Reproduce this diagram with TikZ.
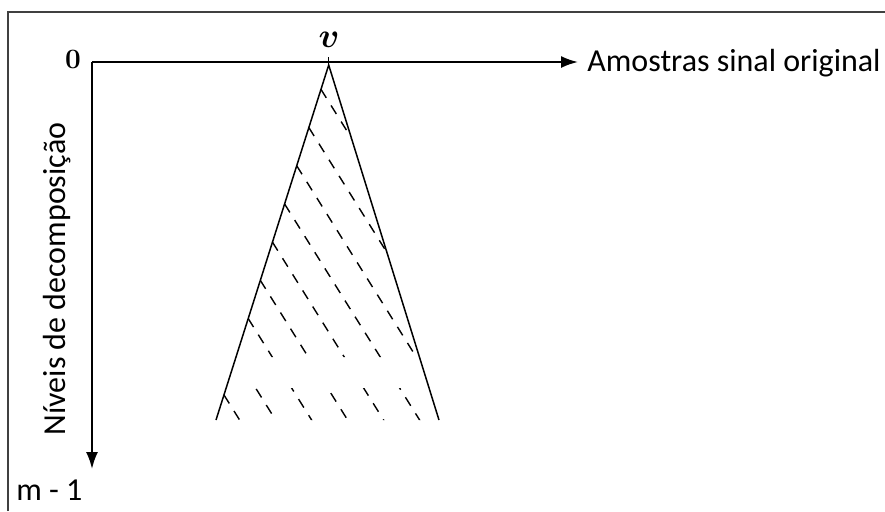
\documentclass[tikz,border=0pt]{standalone}
\usepackage{fontspec}
\usepackage{amsmath,amssymb}
\usepackage{bm}
\newfontfamily\calibri{Carlito}
\usetikzlibrary{arrows.meta}

\begin{document}
\begin{tikzpicture}[x=0.5pt,y=-0.5pt,
    axis/.style={line width=1pt,-{Latex[length=8.5pt,width=6pt]}},
    hatch/.style={line width=0.7pt,dash pattern=on 5pt off 4.5pt},
    lbl/.style={font=\calibri\fontsize{16}{19}\selectfont,inner sep=0pt}]
    \useasboundingbox (0,0) rectangle (885,511);
    \draw[black!75,line width=1pt] (8,511) |- (885,12);
    \coordinate (O) at (92,62);
    \coordinate (xend) at (578,62);
    \coordinate (yend) at (92,469);
    \draw[axis] (O) -- (xend);
    \draw[axis] (O) -- (yend);
    \node[lbl,anchor=base west] (xlbl) at (587,71) {Amostras sinal original};
    \node[lbl,anchor=base,rotate=90] (ylbl) at (65,279) {Níveis de decomposição};
    \node[lbl,anchor=base west] (mlbl) at (16,500) {m - 1};
    \node[font=\fontsize{14}{16}\selectfont\bfseries,anchor=base,inner sep=0pt] (zero) at (73,68) {0};
    \node[font=\fontsize{16}{18}\selectfont,anchor=base,inner sep=0pt] (v) at (329,47) {$\bm{v}$};
    % triangle with hatching
    \coordinate (apex) at (328.7,65);
    \coordinate (vtick) at (328.7,57);
    \coordinate (bl) at (216,420);
    \coordinate (br) at (439,420);
    \draw[line width=0.75pt] (bl) -- (apex) -- (br);
    \draw[line width=0.75pt] (vtick) -- (apex);
    \begin{scope}
        \clip (apex) -- (bl) -- (br) -- cycle;
        \clip (0,0) rectangle (885,357) (0,388) rectangle (885,511);
        \foreach \c in {199,235,...,487}
            \draw[hatch] ({\c+((571.21-\c)/0.94246-355)/1.6},{(571.21-\c)/0.94246}) -- ++(250,400);
    \end{scope}
\end{tikzpicture}
\end{document}
